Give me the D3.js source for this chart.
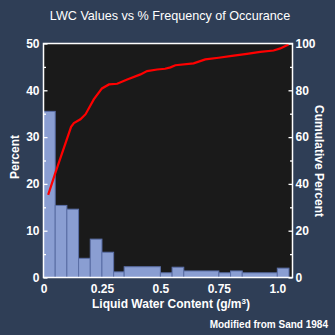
<!DOCTYPE html>
<html><head><meta charset="utf-8">
<script src="https://cdn.jsdelivr.net/npm/d3@7"></script>
<style>
html,body{margin:0;padding:0;background:#2f3e56;}
svg{display:block;font-family:"Liberation Sans",Arial,sans-serif;}
</style></head>
<body>
<script>
// ---- data ----
const binEdges = [0,0.05,0.10,0.15,0.20,0.25,0.30,0.345,0.50,0.55,0.60,0.75,0.80,0.85,1.00,1.05];
const binPercent = [35.5,15.4,14.6,4.1,8.2,5.4,1.2,2.3,1.0,2.2,1.4,1.0,1.4,1.0,2.0];
const cumX = [0.02,0.05,0.118,0.13,0.158,0.18,0.215,0.25,0.28,0.315,0.358,0.415,0.443,0.486,0.52,0.543,0.564,0.642,0.692,0.749,0.806,0.87,0.927,0.984,1.013,1.048];
const cumY = [35.3,44.5,64.4,66.0,67.6,69.8,76.1,80.8,82.5,82.8,84.6,86.8,88.2,88.9,89.2,89.8,90.7,91.5,93.2,93.9,94.7,95.6,96.4,97.0,97.9,99.6];
const xTicks = [0,0.25,0.5,0.75,1.0];
const xTickLabels = ["0","0.25","0.5","0.75","1.0"];
const leftTicks = [0,10,20,30,40,50];
const leftMinor = [5,15,25,35,45];
const rightTicks = [0,20,40,60,80,100];
const rightMinor = [10,30,50,70,90];

const W=335,H=335;
const L=43.5,R=292.5,T=43.5,B=277.5;
const svg=d3.select("body").append("svg").attr("width",W).attr("height",H);
svg.append("rect").attr("width",W).attr("height",H).attr("fill","#2f3e56");

const x=d3.scaleLinear().domain([0,1.065]).range([L,R]);
const yL=d3.scaleLinear().domain([0,50]).range([B,T]);
const yR=d3.scaleLinear().domain([0,100]).range([B,T]);

svg.append("rect").attr("x",L).attr("y",T).attr("width",R-L).attr("height",B-T).attr("fill","#1a1a1a");

const bins=binPercent.map((v,i)=>({x0:binEdges[i],x1:binEdges[i+1],v}));
svg.append("g").selectAll("rect").data(bins).join("rect")
  .attr("x",d=>x(d.x0)).attr("width",d=>x(d.x1)-x(d.x0))
  .attr("y",d=>yL(d.v)).attr("height",d=>yL(0)-yL(d.v))
  .attr("fill","#8a9ed2").attr("stroke","#5a6ea6").attr("stroke-width",1);

const line=d3.line().x(d=>x(d[0])).y(d=>yR(d[1]));
svg.append("path").datum(cumX.map((v,i)=>[v,cumY[i]])).attr("d",line)
  .attr("fill","none").attr("stroke","#ff0000").attr("stroke-width",2.2);

function styleAxis(g){
  g.select(".domain").remove();
  g.selectAll("line").attr("stroke","#fff").attr("stroke-width",1.3);
  g.selectAll("text").attr("fill","#fff").attr("font-size","12px").attr("font-weight","bold").attr("font-family","Liberation Sans, Arial, sans-serif");
}
const gl=svg.append("g").attr("transform",`translate(${L},0)`)
  .call(d3.axisLeft(yL).tickValues(leftTicks).tickSize(-4).tickPadding(4).tickFormat(d3.format("d")));
styleAxis(gl);
const glm=svg.append("g").attr("transform",`translate(${L},0)`)
  .call(d3.axisLeft(yL).tickValues(leftMinor).tickSize(-2.5).tickFormat(""));
styleAxis(glm);
const gr=svg.append("g").attr("transform",`translate(${R},0)`)
  .call(d3.axisRight(yR).tickValues(rightTicks).tickSize(-4).tickPadding(3).tickFormat(d3.format("d")));
styleAxis(gr);
const grm=svg.append("g").attr("transform",`translate(${R},0)`)
  .call(d3.axisRight(yR).tickValues(rightMinor).tickSize(-2.5).tickFormat(""));
styleAxis(grm);
const gx=svg.append("g").attr("transform",`translate(0,${B})`)
  .call(d3.axisBottom(x).tickValues(xTicks).tickSize(0).tickPadding(7).tickFormat((d,i)=>xTickLabels[i]));
styleAxis(gx);

svg.append("rect").attr("x",L).attr("y",T).attr("width",R-L).attr("height",B-T)
  .attr("fill","none").attr("stroke","#fff").attr("stroke-width",1.5);

const txt=(s,x0,y0,opt={})=>{
  const t=svg.append("text").attr("x",x0).attr("y",y0).text(s)
   .attr("fill","#fff").attr("font-size",opt.size||"12px").attr("font-weight",opt.weight||"bold")
   .attr("text-anchor",opt.anchor||"middle");
  if(opt.rot) t.attr("transform",`rotate(${opt.rot},${x0},${y0})`);
  return t;
};
txt("LWC Values vs % Frequency of Occurance",170,20,{size:"12.6px",weight:"normal"});
txt("Percent",19,157,{rot:-90});
txt("Cumulative Percent",315,161,{rot:90});
const xt=txt("Liquid Water Content (g/m",171,308);
xt.append("tspan").text("3").attr("font-size","8px").attr("dy","-4");
xt.append("tspan").text(")").attr("dy","4");
txt("Modified from Sand 1984",328,328,{size:"10px",anchor:"end"});
</script>
</body></html>
